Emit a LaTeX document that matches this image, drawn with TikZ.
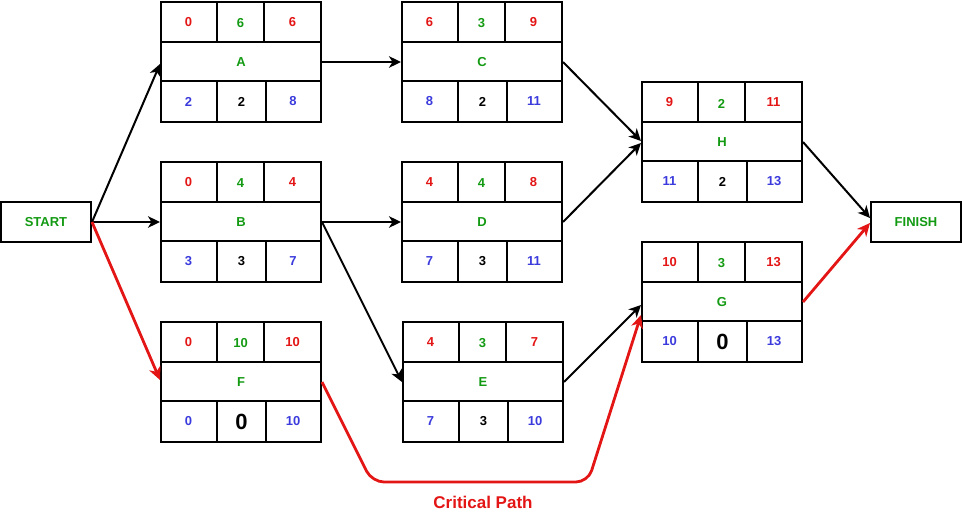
\documentclass[tikz,border=0pt]{standalone}
\usepackage{fontspec}
\setmainfont{Liberation Sans}
\usetikzlibrary{arrows.meta}
\definecolor{cpred}{HTML}{E31515}
\definecolor{cpgreen}{HTML}{139A13}
\definecolor{cpblue}{HTML}{3B3BDD}
\tikzset{
  actbox/.style={draw=black, line width=2pt, minimum width=160pt, minimum height=120pt, inner sep=0pt},
  endbox/.style={draw=black, line width=2pt, minimum width=90pt, minimum height=40pt, inner sep=0pt,
    font=\fontsize{13}{13}\selectfont\bfseries, text=cpgreen},
  cell/.style={line width=2pt},
  numtxt/.style={font=\fontsize{13}{13}\selectfont\bfseries, inner sep=0pt},
  estxt/.style={numtxt, text=cpred},
  durtxt/.style={numtxt, text=cpgreen},
  lstxt/.style={numtxt, text=cpblue},
  sltxt/.style={numtxt, text=black},
  bigsl/.style={font=\fontsize{22}{22}\selectfont\bfseries, inner sep=0pt, text=black},
  lbltxt/.style={numtxt, text=cpgreen},
  link/.style={line width=2pt, -{Stealth[length=12pt,width=11.5pt,inset=3.5pt]}},
  crit/.style={line width=2.8pt, draw=cpred, rounded corners=12pt,
    -{Stealth[length=13pt,width=12pt,inset=4pt]}},
  cptxt/.style={font=\fontsize{17}{17}\selectfont\bfseries, text=cpred, inner sep=0pt}
}
% #1 name, #2 centre x, #3 centre y, #4 label
\newcommand{\actbox}[4]{%
  \node[actbox] (#1) at (#2,#3) {};
  \draw[cell] ([yshift=-41pt]#1.north west) -- ([yshift=-41pt]#1.north east);
  \draw[cell] ([yshift=-80pt]#1.north west) -- ([yshift=-80pt]#1.north east);
  \draw[cell] ([xshift=57pt]#1.north west) -- ([xshift=57pt,yshift=-41pt]#1.north west);
  \draw[cell] ([xshift=104pt]#1.north west) -- ([xshift=104pt,yshift=-41pt]#1.north west);
  \draw[cell] ([xshift=57pt,yshift=-80pt]#1.north west) -- ([xshift=57pt]#1.south west);
  \draw[cell] ([xshift=106pt,yshift=-80pt]#1.north west) -- ([xshift=106pt]#1.south west);
  \node[lbltxt] (#1-lbl) at (#1.center) {#4};
}
% #1 name, #2 ES, #3 dur, #4 EF, #5 LS, #6 slack, #7 LF, #8 slack style
\newcommand{\actnums}[8]{%
  \node[estxt]  (#1-es)  at ([xshift=28.5pt,yshift=-21.5pt]#1.north west) {#2};
  \node[durtxt] (#1-dur) at ([xshift=80.5pt,yshift=-22.5pt]#1.north west) {#3};
  \node[estxt]  (#1-ef)  at ([xshift=132.5pt,yshift=-21.5pt]#1.north west) {#4};
  \node[lstxt]  (#1-ls)  at ([xshift=28.5pt,yshift=-100.5pt]#1.north west) {#5};
  \node[#8]     (#1-sl)  at ([xshift=81.5pt,yshift=-100.5pt]#1.north west) {#6};
  \node[lstxt]  (#1-lf)  at ([xshift=133pt,yshift=-100.5pt]#1.north west) {#7};
}
\begin{document}
\begin{tikzpicture}[x=1pt,y=-1pt]
\useasboundingbox (0,0) rectangle (962,514);
\node[endbox] (start) at (46,222) {START};
\node[endbox] (finish) at (916,222) {FINISH};

\actbox{A}{241}{62}{A}   \actnums{A}{0}{6}{6}{2}{2}{8}{sltxt}
\actbox{B}{241}{222}{B}  \actnums{B}{0}{4}{4}{3}{3}{7}{sltxt}
\actbox{F}{241}{382}{F}  \actnums{F}{0}{10}{10}{0}{0}{10}{bigsl}
\actbox{C}{482}{62}{C}   \actnums{C}{6}{3}{9}{8}{2}{11}{sltxt}
\actbox{D}{482}{222}{D}  \actnums{D}{4}{4}{8}{7}{3}{11}{sltxt}
\actbox{E}{483}{382}{E}  \actnums{E}{4}{3}{7}{7}{3}{10}{sltxt}
\actbox{H}{722}{142}{H}  \actnums{H}{9}{2}{11}{11}{2}{13}{sltxt}
\actbox{G}{722}{302}{G}  \actnums{G}{10}{3}{13}{10}{0}{13}{bigsl}

\draw[link] (start.east) -- ([yshift=-2pt]A.west);
\draw[link] (start.east) -- (B.west);
\draw[crit] (start.east) -- ([yshift=2pt]F.west);
\draw[link] (A.east) -- (C.west);
\draw[link] (B.east) -- (D.west);
\draw[link] (B.east) -- (E.west);
\draw[link] (C.east) -- ([yshift=1pt]H.west);
\draw[link] (D.east) -- ([yshift=-1pt]H.west);
\draw[link] (E.east) -- ([yshift=-3pt]G.west);
\coordinate (cpa) at (372,482);
\coordinate (cpb) at (588,482);
\draw[crit] (F.east) -- (cpa) -- (cpb) -- ([yshift=-13pt]G.west);
\draw[link] (H.east) -- ([yshift=4pt]finish.west);
\draw[crit, rounded corners=0pt] (G.east) -- ([yshift=-1pt]finish.west);
\node[cptxt] (cplabel) at (483,502) {Critical Path};
\end{tikzpicture}
\end{document}
